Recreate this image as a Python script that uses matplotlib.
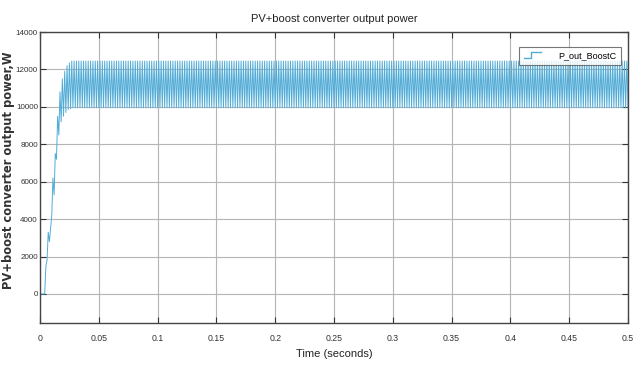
import numpy as np
import matplotlib
matplotlib.use("Agg")
import matplotlib.pyplot as plt
from matplotlib.legend_handler import HandlerBase
from matplotlib.lines import Line2D

# ---- data ----
t_start = 0.004          # time at which the power starts rising (s)
period = 0.002           # ripple period (s)
t_end = 0.5
# start-up cycles: trough (start of cycle) and peak (mid-cycle) values, W
startup_troughs = [0, 1800, 2800, 4200, 5300, 7200, 8500, 9200, 9500, 9700, 9850, 9900]
startup_peaks   = [1500, 3300, 3500, 6200, 7500, 9500, 10800, 11500, 11900, 12200, 12350, 12450]
steady_trough = 9950
steady_peak = 12450

x_ticks = [0, 0.05, 0.1, 0.15, 0.2, 0.25, 0.3, 0.35, 0.4, 0.45, 0.5]
x_tick_labels = ["0", "0.05", "0.1", "0.15", "0.2", "0.25", "0.3", "0.35", "0.4", "0.45", "0.5"]
y_ticks = [0, 2000, 4000, 6000, 8000, 10000, 12000, 14000]
y_tick_labels = ["0", "2000", "4000", "6000", "8000", "10000", "12000", "14000"]

title = "PV+boost converter output power"
xlabel = "Time (seconds)"
ylabel = "PV+boost converter output power,W"
legend_label = "P_out_BoostC"

# ---- build vertex series ----
n_cycles = int(round((t_end - t_start) / period))
troughs = list(startup_troughs) + [steady_trough] * (n_cycles - len(startup_troughs))
peaks = list(startup_peaks) + [steady_peak] * (n_cycles - len(startup_peaks))
t = [0.0]
p = [0.0]
for i in range(n_cycles):
    t0 = t_start + i * period
    t.append(t0)
    p.append(troughs[i])
    t.append(t0 + period / 2)
    p.append(peaks[i])
t.append(t_end)
p.append(steady_trough)


class StepHandler(HandlerBase):
    def create_artists(self, legend, orig_handle, xdescent, ydescent,
                       width, height, fontsize, trans):
        w = width * 0.6
        xs = [-xdescent, -xdescent + w * 0.45, -xdescent + w * 0.45, -xdescent + w]
        ys = [-ydescent + height * 0.05, -ydescent + height * 0.05,
              -ydescent + height * 1.0, -ydescent + height * 1.0]
        ln = Line2D(xs, ys, color=orig_handle.get_color(), lw=1.0, transform=trans)
        return [ln]


# ---- figure ----
plt.rcParams['font.family'] = ['Liberation Sans', 'DejaVu Sans']
fig = plt.figure(figsize=(6.34, 3.65), dpi=100)
ax = fig.add_axes([40/634, 42/365, 588/634, 291/365])

line_color = '#52acd6'
line, = ax.plot(t, p, color=line_color, lw=0.7, label=legend_label)

ax.set_xlim(0, 0.5)
ax.set_ylim(-1550, 14000)
ax.set_xticks(x_ticks)
ax.set_xticklabels(x_tick_labels)
ax.set_yticks(y_ticks)
ax.set_yticklabels(y_tick_labels)
ax.tick_params(direction='in', top=True, right=True, length=4, width=0.8,
               labelsize=6.3, colors='#333333', pad=8)
ax.tick_params(axis='y', pad=1.5, labelsize=5.8)
ax.grid(True, color='#b5b5b5', lw=0.8)
for s in ax.spines.values():
    s.set_color('#444444')
    s.set_linewidth(1.0)

ax.set_title(title, fontsize=8, color='#222222', pad=7)
ax.set_xlabel(xlabel, fontsize=8, color='#222222', labelpad=4)
fig.text(9/634, 1 - 170/365, ylabel, rotation=90, ha='center', va='center',
         fontsize=8.3, color='#333333', fontweight='bold', family=['DejaVu Sans'])

leg = ax.legend(handles=[line], labels=[legend_label], loc='upper right',
                fontsize=6.5, handlelength=3.2, handletextpad=0.6,
                handler_map={Line2D: StepHandler()},
                frameon=True, fancybox=False, edgecolor='#555555',
                bbox_to_anchor=(0.995, 0.965), borderpad=0.5)
leg.get_frame().set_linewidth(0.8)

fig.savefig('out.png', dpi=100)
